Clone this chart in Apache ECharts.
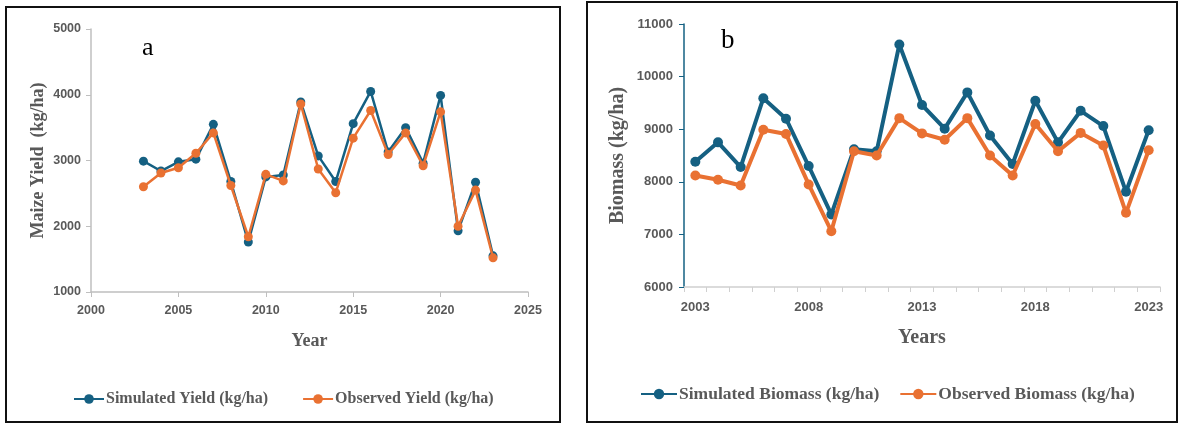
<!DOCTYPE html>
<html>
<head>
<meta charset="utf-8">
<script src="https://cdn.jsdelivr.net/npm/echarts@6/dist/echarts.min.js"></script>
<style>
html,body{margin:0;padding:0;background:#fff;}
#chart{width:1180px;height:425px;}
</style>
</head>
<body>
<div id="chart"></div>
<script>
// Panel a: maize yield
const yearsA = [2003,2004,2005,2006,2007,2008,2009,2010,2011,2012,2013,2014,2015,2016,2017,2018,2019,2020,2021,2022,2023];
const simYield = [2990,2840,2980,3020,3550,2680,1760,2750,2780,3890,3070,2680,3560,4050,3130,3500,2960,3990,1930,2670,1550];
const obsYield = [2600,2810,2890,3110,3420,2620,1840,2790,2690,3860,2870,2510,3340,3760,3090,3420,2920,3740,2000,2550,1520];
const yTicksA = {min:1000, max:5000, interval:1000};
const xTicksA = {min:2000, max:2025, interval:5};

// Panel b: biomass
const yearsB = ['2003','2004','2005','2006','2007','2008','2009','2010','2011','2012','2013','2014','2015','2016','2017','2018','2019','2020','2021','2022','2023'];
const simBiomass = [8380,8750,8280,9590,9200,8300,7380,8620,8580,10610,9460,9010,9700,8880,8340,9540,8750,9350,9060,7810,8980];
const obsBiomass = [8120,8040,7930,8990,8910,7950,7060,8580,8500,9210,8920,8800,9210,8500,8120,9100,8580,8930,8690,7410,8600];
const yTicksB = {min:6000, max:11000, interval:1000};

const C_SIM = '#156082';
const C_OBS = '#E97132';
const GRAY = '#595959';
const SERIF = '"Liberation Serif","Times New Roman",serif';
const SANS = '"Liberation Sans",Arial,sans-serif';
const plain = v => String(v);

const chart = echarts.init(document.getElementById('chart'));
const pairs = (xs, ys) => xs.map((x,i)=>[x, ys[i]]);

chart.setOption({
  animation:false,
  graphic:[
    {type:'rect', shape:{x:6,y:7,width:554,height:415}, style:{fill:'none',stroke:'#111',lineWidth:2}},
    {type:'rect', shape:{x:587,y:2,width:590,height:420}, style:{fill:'none',stroke:'#111',lineWidth:2}},
    {type:'text', left:142, top:35, style:{text:'a', font:'26px '+SERIF, fill:'#000'}},
    {type:'text', left:721, top:27, style:{text:'b', font:'27px '+SERIF, fill:'#000'}}
  ],
  legend:[
    {left:68, top:386, itemWidth:30, itemHeight:12, itemGap:34,
     data:['Simulated Yield (kg/ha)','Observed Yield (kg/ha)'],
     textStyle:{fontFamily:SERIF, fontSize:16, fontWeight:'bold', color:GRAY, padding:[0,0,0,-3]}},
    {left:635, top:380, itemWidth:36, itemHeight:13, itemGap:20,
     data:['Simulated Biomass (kg/ha)','Observed Biomass (kg/ha)'],
     textStyle:{fontFamily:SERIF, fontSize:17.5, fontWeight:'bold', color:GRAY, padding:[0,0,0,-3]}}
  ],
  grid:[
    {left:91, top:29, width:437, height:263},
    {left:684, top:24, width:476, height:263}
  ],
  xAxis:[
    {gridIndex:0, type:'value', min:xTicksA.min, max:xTicksA.max, interval:xTicksA.interval,
     name:'Year', nameLocation:'middle', nameGap:40,
     nameTextStyle:{fontFamily:SERIF, fontSize:18, fontWeight:'bold', color:GRAY},
     axisLine:{show:true, lineStyle:{color:'#BFBFBF', width:1.5}},
     axisTick:{show:true, length:5, lineStyle:{color:'#BFBFBF'}},
     splitLine:{show:false},
     axisLabel:{formatter:plain, fontFamily:SANS, fontSize:12.5, fontWeight:'bold', color:GRAY, margin:12}},
    {gridIndex:1, type:'category', data:yearsB, boundaryGap:true,
     name:'Years', nameLocation:'middle', nameGap:41,
     nameTextStyle:{fontFamily:SERIF, fontSize:20, fontWeight:'bold', color:GRAY},
     axisLine:{show:true, lineStyle:{color:'#D0D0D0', width:1.5}},
     axisTick:{show:true, interval:0, length:5, lineStyle:{color:'#D0D0D0'}},
     axisLabel:{interval:4, fontFamily:SANS, fontSize:13, fontWeight:'bold', color:GRAY, margin:14}}
  ],
  yAxis:[
    {gridIndex:0, type:'value', min:yTicksA.min, max:yTicksA.max, interval:yTicksA.interval,
     name:'Maize Yield  (kg/ha)', nameLocation:'middle', nameGap:44,
     nameTextStyle:{fontFamily:SERIF, fontSize:18, fontWeight:'bold', color:GRAY},
     axisLine:{show:true, lineStyle:{color:'#BFBFBF', width:1.5}},
     axisTick:{show:true, length:5, lineStyle:{color:'#BFBFBF'}},
     splitLine:{show:false},
     axisLabel:{formatter:plain, fontFamily:SANS, fontSize:12.5, fontWeight:'bold', color:GRAY, margin:10}},
    {gridIndex:1, type:'value', min:yTicksB.min, max:yTicksB.max, interval:yTicksB.interval,
     name:'Biomass (kg/ha)', nameLocation:'middle', nameGap:56,
     nameTextStyle:{fontFamily:SERIF, fontSize:20, fontWeight:'bold', color:GRAY},
     axisLine:{show:true, lineStyle:{color:C_SIM, width:1.5}},
     axisTick:{show:true, length:5, lineStyle:{color:C_SIM}},
     splitLine:{show:false},
     axisLabel:{formatter:plain, fontFamily:SANS, fontSize:13, fontWeight:'bold', color:GRAY, margin:11}}
  ],
  series:[
    {name:'Simulated Yield (kg/ha)', type:'line', xAxisIndex:0, yAxisIndex:0,
     data:pairs(yearsA, simYield), symbol:'circle', symbolSize:9,
     lineStyle:{color:C_SIM, width:2.5}, itemStyle:{color:C_SIM}, z:2},
    {name:'Observed Yield (kg/ha)', type:'line', xAxisIndex:0, yAxisIndex:0,
     data:pairs(yearsA, obsYield), symbol:'circle', symbolSize:9,
     lineStyle:{color:C_OBS, width:2.5}, itemStyle:{color:C_OBS}, z:3},
    {name:'Simulated Biomass (kg/ha)', type:'line', xAxisIndex:1, yAxisIndex:1,
     data:simBiomass, symbol:'circle', symbolSize:10,
     lineStyle:{color:C_SIM, width:4}, itemStyle:{color:C_SIM}, z:2},
    {name:'Observed Biomass (kg/ha)', type:'line', xAxisIndex:1, yAxisIndex:1,
     data:obsBiomass, symbol:'circle', symbolSize:10,
     lineStyle:{color:C_OBS, width:4}, itemStyle:{color:C_OBS}, z:3}
  ]
});
</script>
</body>
</html>
